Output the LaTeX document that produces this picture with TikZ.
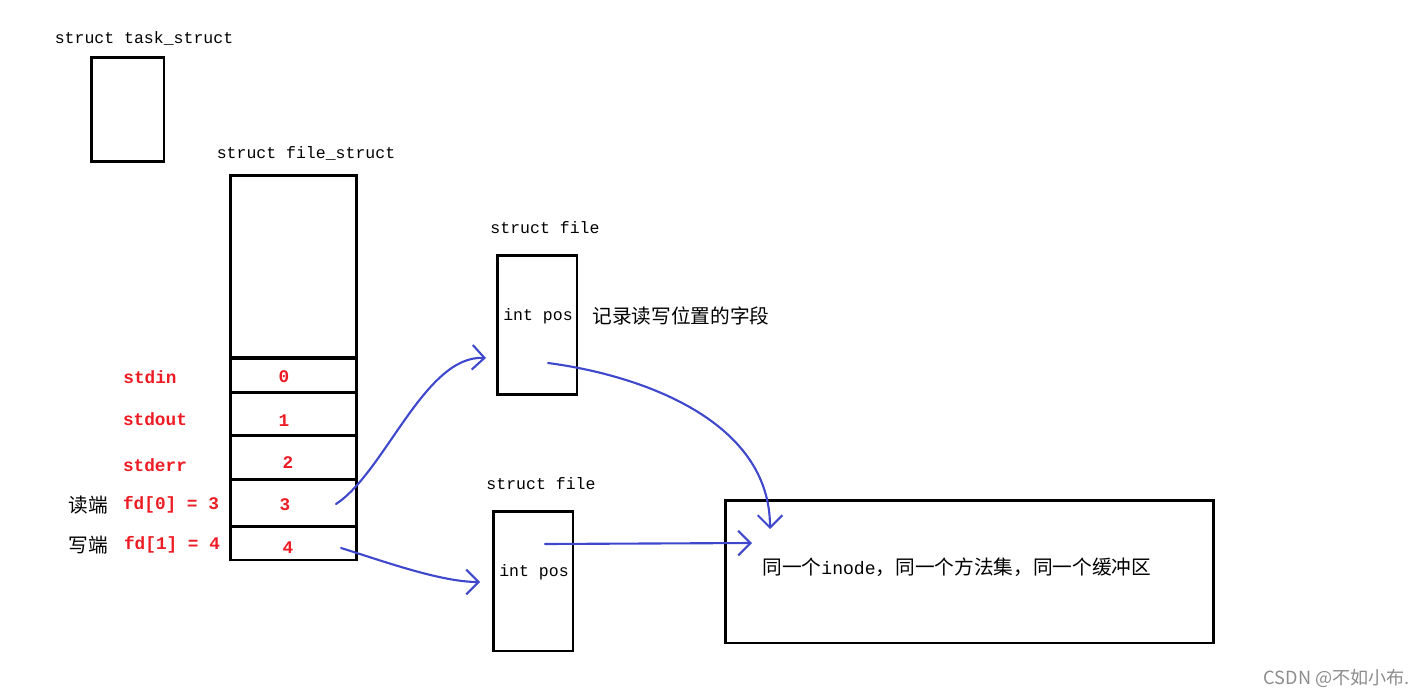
\documentclass[tikz,border=0pt]{standalone}
\usepackage{fontspec}
\setmonofont{Liberation Mono}
\newfontfamily\cjk{Noto Sans CJK SC}
\usetikzlibrary{arrows.meta}
\definecolor{penBlue}{RGB}{63,72,204}
\definecolor{fdRed}{RGB}{237,28,36}
\colorlet{markGray}{black!45}
\newcommand{\monofont}{\fontsize{9.4}{11}\selectfont\ttfamily}
\newcommand{\cnfont}{\fontsize{11.2}{13}\selectfont\cjk}
\tikzset{
  box/.style={draw, line width=1.7pt, inner sep=0pt},
  lbl/.style={font=\monofont, inner sep=0pt},
  cn/.style={font=\cnfont, inner sep=0pt},
  fdlbl/.style={font=\fontsize{10.1}{12}\selectfont\ttfamily\bfseries, text=fdRed, inner sep=0pt},
  pen/.style={penBlue, line width=1.2pt, line cap=round, -{Straight Barb[length=7pt,width=14pt]}}
}

\begin{document}
\begin{tikzpicture}[x=0.02cm, y=-0.02cm]
   \useasboundingbox (0,0) rectangle (1426,696);

   \node[lbl] (tasklbl) at (144,38) {struct task\_struct};
   \node[box, minimum width=1.46cm, minimum height=2.1cm] (task) at (127.5,109.5) {};

   \node[lbl] (fslbl) at (306,153) {struct file\_struct};
   \node[box, minimum width=2.54cm, minimum height=3.66cm] (fs) at (293.5,266.5) {};
   \node[box, minimum width=2.54cm, minimum height=0.68cm] (c0) at (293.5,375) {};
   \node[box, minimum width=2.54cm, minimum height=0.86cm] (c1) at (293.5,413.5) {};
   \node[box, minimum width=2.54cm, minimum height=0.88cm] (c2) at (293.5,457) {};
   \node[box, minimum width=2.54cm, minimum height=0.94cm] (c3) at (293.5,502.5) {};
   \node[box, minimum width=2.54cm, minimum height=0.68cm] (c4) at (293.5,543) {};

   \node[fdlbl] (n0) at (284,377) {0};
   \node[fdlbl] (n1) at (284,421) {1};
   \node[fdlbl] (n2) at (288,463) {2};
   \node[fdlbl] (n3) at (285,505) {3};
   \node[fdlbl] (n4) at (288,548) {4};

   \node[fdlbl] (stdin) at (150,377) {stdin};
   \node[fdlbl] (stdout) at (155,419) {stdout};
   \node[fdlbl] (stderr) at (155,465) {stderr};
   \node[cn] (readend) at (88,505) {读端};
   \node[fdlbl] (fdzero) at (171,505) {fd[0] = 3};
   \node[cn] (writeend) at (88,545) {写端};
   \node[fdlbl] (fdone) at (172,545) {fd[1] = 4};

   \node[lbl] (f1lbl) at (545,228) {struct file};
   \node[box, minimum width=1.6cm, minimum height=2.8cm] (f1) at (537,325) {};
   \node[lbl] (f1pos) at (538,316) {int pos};
   \node[cn] (posnote) at (681,316) {记录读写位置的字段};

   \node[lbl] (f2lbl) at (541,484) {struct file};
   \node[box, minimum width=1.6cm, minimum height=2.8cm] (f2) at (533,581) {};
   \node[lbl] (f2pos) at (534,572) {int pos};

   \node[box, minimum width=9.78cm, minimum height=2.86cm] (inode) at (969.5,571.5) {};
   \node[cn, anchor=west] (inodetxt) at (762,567) {同一个{\fontsize{10.3}{12}\selectfont\ttfamily inode}，同一个方法集，同一个缓冲区};

   \node[anchor=east, font=\fontsize{10.3}{12}\selectfont\cjk, text=markGray, inner sep=0pt] (mark) at (1410,678) {CSDN @不如小布.};

   \coordinate (rdtail) at (336,504);
   \coordinate (rdtip) at (486,358);
   \coordinate (wrtail) at (341,548);
   \coordinate (wrtip) at (480,582);
   \coordinate (f1tail) at (548,363);
   \coordinate (f1tip) at (770,529);
   \coordinate (f2tail) at (545,544);
   \coordinate (f2tip) at (752,543);

   \draw[pen] (rdtail) .. controls (385,472) and (425,355) .. (rdtip);
   \draw[pen] (wrtail) .. controls (380,560) and (440,582) .. (wrtip);
   \draw[pen] (f1tail) .. controls (640,375) and (770,420) .. (f1tip);
   \draw[pen] (f2tail) -- (f2tip);

\end{tikzpicture}
\end{document}
